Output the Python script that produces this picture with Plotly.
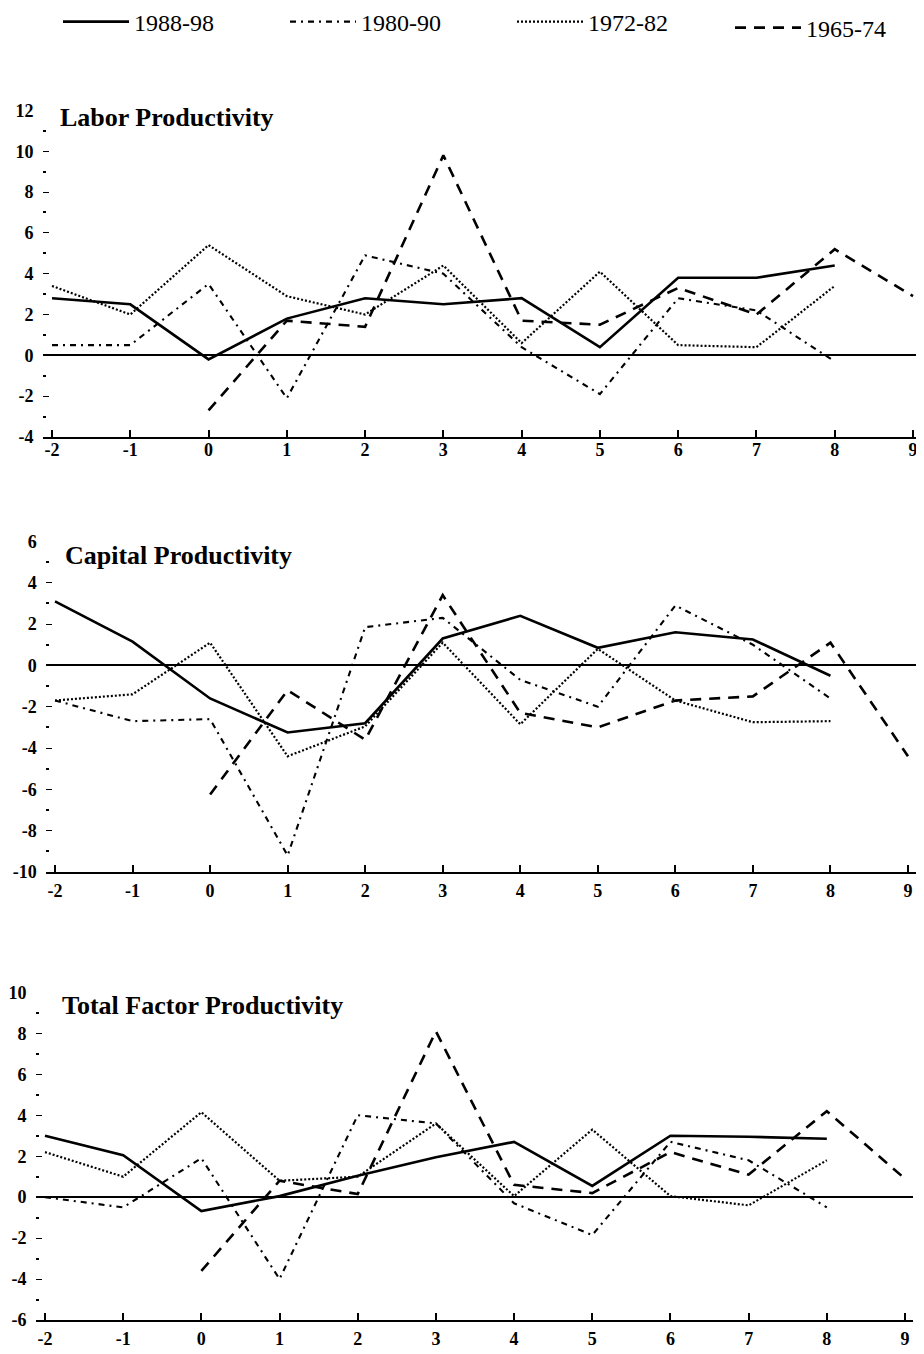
import plotly.graph_objects as go
from plotly.subplots import make_subplots

# ---- data ----
years = [-2, -1, 0, 1, 2, 3, 4, 5, 6, 7, 8, 9]
series_names = ["1988-98", "1980-90", "1972-82", "1965-74"]
panel_titles = ["Labor Productivity", "Capital Productivity", "Total Factor Productivity"]

labor_1988_98 = [2.8, 2.5, -0.2, 1.8, 2.8, 2.5, 2.8, 0.4, 3.8, 3.8, 4.4, None]
labor_1980_90 = [0.5, 0.5, 3.5, -2.1, 4.9, 4.0, 0.4, -1.9, 2.8, 2.2, -0.3, None]
labor_1972_82 = [3.4, 2.0, 5.4, 2.9, 2.0, 4.4, 0.6, 4.1, 0.5, 0.4, 3.4, None]
labor_1965_74 = [None, None, -2.7, 1.7, 1.4, 9.8, 1.7, 1.5, 3.3, 2.0, 5.2, 2.9]

capital_1988_98 = [3.1, 1.15, -1.6, -3.25, -2.8, 1.3, 2.4, 0.85, 1.6, 1.25, -0.5, None]
capital_1980_90 = [-1.7, -2.7, -2.6, -9.2, 1.85, 2.3, -0.7, -2.0, 2.9, 1.0, -1.6, None]
capital_1972_82 = [-1.7, -1.4, 1.1, -4.4, -2.95, 1.1, -2.85, 0.8, -1.7, -2.75, -2.7, None]
capital_1965_74 = [None, None, -6.25, -1.2, -3.6, 3.4, -2.3, -3.0, -1.7, -1.5, 1.1, -4.4]

tfp_1988_98 = [3.0, 2.05, -0.68, 0.05, 1.05, 1.95, 2.7, 0.55, 3.0, 2.95, 2.85, None]
tfp_1980_90 = [0.0, -0.5, 1.9, -4.0, 4.0, 3.6, -0.3, -1.85, 2.7, 1.8, -0.5, None]
tfp_1972_82 = [2.2, 1.0, 4.15, 0.8, 1.0, 3.6, 0.05, 3.3, 0.05, -0.4, 1.8, None]
tfp_1965_74 = [None, None, -3.6, 0.8, 0.15, 8.1, 0.6, 0.2, 2.2, 1.1, 4.2, 0.9]

y_ranges = [(-4, 12), (-10, 6), (-6, 10)]

panels = [
    [labor_1988_98, labor_1980_90, labor_1972_82, labor_1965_74],
    [capital_1988_98, capital_1980_90, capital_1972_82, capital_1965_74],
    [tfp_1988_98, tfp_1980_90, tfp_1972_82, tfp_1965_74],
]

# ---- styles / layout (page pixel positions; page has an 8px body margin) ----
FONT = "Liberation Serif"
OFF = 8
W = 916.0
H = 1346.0


def px(xp):
    return (xp - OFF) / W


def py(yp):
    return 1 - (yp - OFF) / H


styles = [
    dict(color="black", width=2.6, dash="solid"),
    dict(color="black", width=2.1, dash="6px,5px,2px,5px"),
    dict(color="black", width=2.2, dash="2px,2px"),
    dict(color="black", width=2.6, dash="11px,8px"),
]

# (pixel of x=-2, pixel of x=9) per panel, and (pixel of y top value, pixel of y bottom value)
x_px = [(52, 913), (55, 908), (45, 905)]
y_px = [(110, 437), (541, 872), (992, 1320)]
title_px = [(58, 117), (63, 555), (60, 1005)]
xlabel_standoff = [-5, 1, 1]
XLO, XHI = -2.12, 9.1

# legend entries: (line start x, centre y)
legend_px = [(63, 22), (290, 22), (517, 22), (735, 28)]
legend_ids = ["legend", "legend2", "legend3", "legend4"]

fig = make_subplots(rows=3, cols=1)

for p, data in enumerate(panels):
    for s, vals in enumerate(data):
        fig.add_trace(
            go.Scatter(
                x=years, y=vals, mode="lines", name=series_names[s],
                line=styles[s], legendgroup=series_names[s],
                legend=legend_ids[s],
                showlegend=(p == 0), connectgaps=False,
            ),
            row=p + 1, col=1,
        )

for p in range(3):
    top, bot = y_px[p]
    a, b = x_px[p]
    u = (b - a) / 11.0
    left = a - (XLO + 2) * -u
    right = b + (XHI - 9) * u
    lo, hi = y_ranges[p]
    major = list(range(lo, hi + 1, 2))
    minor = list(range(lo + 1, hi, 2))
    yname = "yaxis" if p == 0 else f"yaxis{p + 1}"
    xname = "xaxis" if p == 0 else f"xaxis{p + 1}"
    fig.layout[yname].update(
        domain=[py(bot), py(top)],
        range=[lo, hi + 0.02],
        tickvals=major, ticktext=[str(v) for v in major],
        ticks="inside", ticklen=6, tickwidth=1.3, tickcolor="black",
        ticklabelstandoff=8,
        minor=dict(tickvals=minor, ticks="inside", ticklen=3, tickwidth=1.6, tickcolor="black"),
        showgrid=False, showline=False,
        zeroline=True, zerolinecolor="black", zerolinewidth=1.5,
        tickfont=dict(family=FONT, size=18, color="black", weight="bold"),
        fixedrange=True,
    )
    fig.layout[xname].update(
        domain=[px(left), px(right)],
        range=[XLO, XHI],
        tickvals=years, ticktext=[str(v) for v in years],
        ticks="inside", ticklen=7, tickwidth=1.5, tickcolor="black",
        ticklabelstandoff=xlabel_standoff[p],
        showline=True, linecolor="black", linewidth=2,
        showgrid=False, zeroline=False,
        tickfont=dict(family=FONT, size=18, color="black", weight="bold"),
        fixedrange=True,
    )
    tx, ty = title_px[p]
    fig.add_annotation(
        text=panel_titles[p], xref="paper", yref="paper",
        x=px(tx), y=py(ty), xanchor="left", yanchor="middle",
        showarrow=False,
        font=dict(family=FONT, size=26, color="black", weight="bold"),
    )

legend_common = dict(
    orientation="h", xanchor="left", yanchor="middle",
    font=dict(family=FONT, size=24, color="black"),
    bgcolor="rgba(0,0,0,0)", itemwidth=66, borderwidth=0,
)
layout_legends = {}
for lid, (lx, ly) in zip(legend_ids, legend_px):
    layout_legends[lid] = dict(legend_common, x=px(lx - 5), y=py(ly))

fig.update_layout(
    width=int(W), height=int(H),
    margin=dict(l=0, r=0, t=0, b=0, autoexpand=False),
    paper_bgcolor="white", plot_bgcolor="white",
    showlegend=True,
    font=dict(family=FONT, color="black"),
    **layout_legends,
)

fig.write_html("out.html")
